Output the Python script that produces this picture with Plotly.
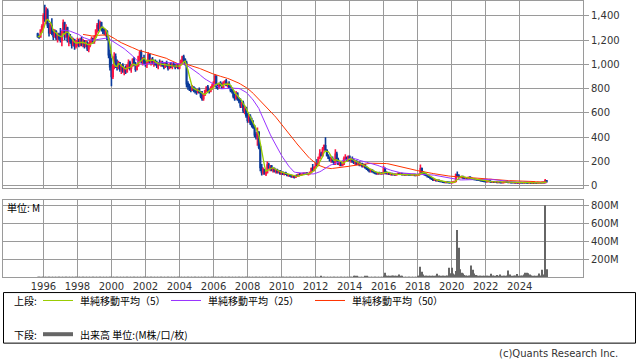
import pandas as pd
import plotly.graph_objects as go

# ---------------- data (monthly, Sep 1995 - Aug 2025) ----------------
START_MONTH = "1995-09-01"

OPEN = [
    1250, 1230, 1225, 1280,
    1310, 1400, 1380, 1440, 1320, 1260, 1320, 1260, 1230, 1270, 1220, 1240,
    1220, 1200, 1260, 1340, 1230, 1300, 1200, 1220, 1190, 1160, 1200, 1150,
    1180, 1190, 1160, 1200, 1170, 1190, 1150, 1180, 1130, 1160, 1190, 1210,
    1190, 1230, 1280, 1320, 1300, 1340, 1290, 1280, 1260, 1270, 1210, 1080,
    980, 900, 980, 1060, 1000, 980, 1010, 960, 990, 950, 970, 940,
    990, 1010, 970, 990, 1040, 1000, 960, 990, 1060, 1100, 1030, 1050,
    1020, 1000, 1020, 1080, 1030, 1040, 1010, 1020, 1000, 990, 1010, 1000,
    1010, 990, 980, 1010, 990, 970, 1000, 980, 1000, 990, 980, 990,
    970, 1000, 1030, 1060, 1040, 1010, 840, 820, 800, 790, 810, 790,
    780, 770, 790, 770, 740, 720, 750, 780, 810, 790, 780, 800,
    820, 850, 900, 820, 810, 840, 830, 810, 850, 860, 830, 840,
    810, 790, 780, 740, 720, 760, 710, 700, 660, 680, 620, 640,
    580, 540, 570, 520, 500, 480, 420, 400, 440, 320, 150, 110,
    130, 100, 110, 170, 150, 160, 130, 140, 120, 130, 110, 120,
    100, 110, 95, 105, 95, 85, 90, 80, 75, 80, 70, 85,
    80, 95, 90, 95, 100, 95, 105, 95, 100, 110, 140, 130,
    150, 180, 170, 230, 260, 250, 300, 330, 290, 250, 230, 210,
    220, 200, 180, 260, 210, 180, 190, 170, 180, 220, 230, 210,
    240, 210, 220, 200, 190, 200, 180, 190, 170, 180, 160, 170,
    150, 140, 130, 120, 130, 115, 110, 105, 100, 105, 100, 105,
    100, 140, 110, 100, 105, 95, 100, 92, 95, 90, 95, 100,
    95, 100, 92, 95, 90, 95, 92, 90, 88, 90, 92, 85,
    88, 90, 95, 140, 110, 100, 90, 85, 75, 70, 60, 55,
    45, 50, 42, 45, 38, 35, 33, 30, 28, 30, 28, 26,
    25, 28, 30, 35, 90, 85, 72, 70, 75, 65, 62, 65,
    60, 70, 62, 58, 55, 52, 50, 48, 45, 43, 40, 38,
    36, 34, 35, 38, 34, 30, 32, 30, 31, 28, 29, 27,
    26, 28, 30, 33, 29, 27, 28, 26, 25, 26, 24, 25,
    24, 26, 25, 24, 27, 26, 24, 23, 24, 22, 23, 22,
    23, 22, 24, 25, 23, 28, 26, 40,
]
HIGH = [
    1260, 1245, 1290, 1330,
    1420, 1490, 1470, 1460, 1340, 1340, 1380, 1290, 1290, 1280, 1260, 1260,
    1300, 1280, 1370, 1350, 1330, 1310, 1240, 1250, 1230, 1220, 1210, 1200,
    1220, 1210, 1220, 1230, 1210, 1200, 1200, 1190, 1180, 1200, 1230, 1220,
    1240, 1290, 1340, 1370, 1360, 1350, 1310, 1300, 1290, 1280, 1230, 1120,
    1050, 1000, 1100, 1090, 1040, 1030, 1020, 1000, 1010, 980, 990, 1000,
    1040, 1030, 1000, 1050, 1060, 1020, 1000, 1070, 1110, 1120, 1060, 1080,
    1040, 1030, 1100, 1090, 1050, 1060, 1030, 1040, 1030, 1020, 1040, 1030,
    1030, 1010, 1020, 1030, 1000, 1010, 1020, 1010, 1020, 1000, 1010, 1000,
    1010, 1040, 1070, 1080, 1050, 1030, 860, 840, 820, 830, 820, 810,
    800, 800, 810, 780, 780, 760, 790, 820, 830, 800, 820, 840,
    860, 920, 910, 840, 850, 860, 850, 860, 870, 880, 850, 860,
    830, 810, 790, 760, 780, 770, 730, 720, 690, 700, 660, 650,
    600, 590, 590, 560, 540, 500, 440, 480, 450, 340, 180, 150,
    140, 130, 200, 190, 170, 170, 150, 150, 140, 140, 130, 130,
    120, 115, 110, 115, 100, 95, 95, 90, 85, 85, 90, 95,
    100, 105, 100, 110, 110, 110, 110, 105, 115, 150, 180, 160,
    190, 220, 240, 300, 280, 320, 340, 400, 300, 260, 240, 240,
    240, 220, 300, 280, 230, 200, 200, 190, 240, 260, 240, 250,
    250, 230, 240, 220, 210, 210, 200, 200, 190, 190, 180, 180,
    160, 150, 140, 140, 135, 125, 120, 115, 110, 115, 110, 110,
    165, 150, 120, 110, 110, 105, 105, 100, 100, 100, 110, 105,
    105, 105, 100, 100, 98, 100, 98, 95, 95, 98, 95, 92,
    95, 100, 175, 150, 120, 110, 100, 90, 85, 75, 70, 60,
    55, 55, 50, 48, 42, 40, 38, 35, 34, 35, 32, 30,
    30, 35, 40, 100, 117, 95, 80, 80, 80, 72, 70, 70,
    75, 78, 68, 62, 60, 58, 55, 52, 50, 48, 45, 42,
    40, 38, 42, 40, 36, 34, 34, 33, 32, 31, 31, 29,
    30, 32, 38, 35, 31, 30, 30, 28, 28, 28, 27, 27,
    28, 29, 28, 30, 32, 28, 26, 26, 26, 25, 25, 24,
    25, 26, 28, 27, 30, 32, 55, 48,
]
LOW = [
    1220, 1210, 1220, 1260,
    1300, 1350, 1330, 1300, 1230, 1250, 1240, 1200, 1220, 1200, 1180, 1200,
    1180, 1150, 1250, 1200, 1220, 1180, 1150, 1170, 1130, 1150, 1120, 1130,
    1150, 1140, 1150, 1150, 1140, 1130, 1140, 1110, 1100, 1140, 1170, 1170,
    1170, 1220, 1260, 1270, 1290, 1270, 1250, 1240, 1230, 1200, 1050, 950,
    820, 880, 960, 970, 950, 960, 940, 920, 930, 910, 920, 930,
    960, 950, 930, 980, 990, 940, 950, 980, 1020, 1010, 990, 1000,
    980, 970, 1010, 1010, 990, 1000, 980, 990, 970, 960, 990, 980,
    980, 960, 970, 980, 950, 960, 970, 960, 980, 960, 970, 960,
    960, 990, 1010, 1020, 990, 810, 790, 780, 770, 780, 770, 760,
    750, 760, 760, 720, 700, 700, 740, 770, 770, 760, 770, 790,
    810, 840, 800, 790, 800, 820, 800, 800, 830, 820, 810, 800,
    770, 760, 720, 700, 710, 700, 680, 640, 640, 600, 590, 560,
    520, 520, 500, 480, 470, 400, 380, 330, 300, 120, 85, 90,
    90, 80, 100, 140, 120, 120, 110, 110, 100, 100, 100, 90,
    90, 90, 85, 90, 80, 75, 75, 65, 65, 60, 65, 75,
    75, 85, 80, 90, 90, 90, 90, 85, 95, 100, 120, 120,
    140, 160, 160, 220, 240, 240, 290, 280, 240, 220, 200, 190,
    190, 170, 170, 200, 170, 160, 160, 160, 170, 210, 200, 200,
    200, 190, 190, 180, 170, 170, 170, 160, 160, 150, 150, 140,
    130, 120, 110, 110, 110, 100, 95, 90, 90, 95, 90, 95,
    95, 100, 95, 90, 90, 85, 88, 85, 85, 85, 88, 90,
    88, 90, 85, 85, 85, 88, 85, 82, 82, 85, 82, 80,
    82, 85, 90, 100, 95, 85, 80, 70, 65, 55, 50, 40,
    40, 40, 38, 35, 32, 30, 28, 26, 25, 26, 24, 22,
    22, 25, 26, 33, 75, 65, 62, 60, 60, 58, 55, 55,
    55, 60, 55, 50, 48, 45, 45, 42, 40, 38, 36, 34,
    32, 30, 32, 32, 28, 27, 28, 27, 26, 25, 25, 24,
    24, 25, 28, 27, 25, 24, 24, 23, 22, 22, 22, 22,
    22, 23, 22, 22, 24, 22, 21, 20, 21, 20, 20, 20,
    20, 20, 22, 21, 22, 24, 25, 30,
]
CLOSE = [
    1230, 1225, 1280, 1310,
    1400, 1380, 1440, 1320, 1260, 1320, 1260, 1230, 1270, 1220, 1240, 1220,
    1200, 1260, 1340, 1230, 1300, 1200, 1220, 1190, 1160, 1200, 1150, 1180,
    1190, 1160, 1200, 1170, 1190, 1150, 1180, 1130, 1160, 1190, 1210, 1190,
    1230, 1280, 1320, 1300, 1340, 1290, 1280, 1260, 1270, 1210, 1080, 980,
    900, 980, 1060, 1000, 980, 1010, 960, 990, 950, 970, 940, 990,
    1010, 970, 990, 1040, 1000, 960, 990, 1060, 1100, 1030, 1050, 1020,
    1000, 1020, 1080, 1030, 1040, 1010, 1020, 1000, 990, 1010, 1000, 1010,
    990, 980, 1010, 990, 970, 1000, 980, 1000, 990, 980, 990, 970,
    1000, 1030, 1060, 1040, 1010, 840, 820, 800, 790, 810, 790, 780,
    770, 790, 770, 740, 720, 750, 780, 810, 790, 780, 800, 820,
    850, 900, 820, 810, 840, 830, 810, 850, 860, 830, 840, 810,
    790, 780, 740, 720, 760, 710, 700, 660, 680, 620, 640, 580,
    540, 570, 520, 500, 480, 420, 400, 440, 320, 150, 110, 130,
    100, 110, 170, 150, 160, 130, 140, 120, 130, 110, 120, 100,
    110, 95, 105, 95, 85, 90, 80, 75, 80, 70, 85, 80,
    95, 90, 95, 100, 95, 105, 95, 100, 110, 140, 130, 150,
    180, 170, 230, 260, 250, 300, 330, 290, 250, 230, 210, 220,
    200, 180, 260, 210, 180, 190, 170, 180, 220, 230, 210, 240,
    210, 220, 200, 190, 200, 180, 190, 170, 180, 160, 170, 150,
    140, 130, 120, 130, 115, 110, 105, 100, 105, 100, 105, 100,
    140, 110, 100, 105, 95, 100, 92, 95, 90, 95, 100, 95,
    100, 92, 95, 90, 95, 92, 90, 88, 90, 92, 85, 88,
    90, 95, 140, 110, 100, 90, 85, 75, 70, 60, 55, 45,
    50, 42, 45, 38, 35, 33, 30, 28, 30, 28, 26, 25,
    28, 30, 35, 90, 85, 72, 70, 75, 65, 62, 65, 60,
    70, 62, 58, 55, 52, 50, 48, 45, 43, 40, 38, 36,
    34, 35, 38, 34, 30, 32, 30, 31, 28, 29, 27, 26,
    28, 30, 33, 29, 27, 28, 26, 25, 26, 24, 25, 24,
    26, 25, 24, 27, 26, 24, 23, 24, 22, 23, 22, 23,
    22, 24, 25, 23, 28, 26, 40, 34,
]
# volume in millions
VOLUME_M = [
    1, 1, 1, 1,
    1, 2, 2, 1, 1, 1, 1, 1, 1, 1, 1, 1,
    1, 1, 1, 1, 1, 1, 1, 1, 1, 1, 1, 1,
    1, 1, 1, 1, 1, 1, 1, 1, 1, 1, 1, 1,
    1, 1, 1, 1, 1, 1, 1, 1, 1, 1, 1, 2,
    2, 1, 1, 1, 1, 1, 1, 1, 1, 1, 1, 1,
    1, 1, 1, 1, 1, 1, 1, 1, 1, 1, 1, 1,
    1, 1, 1, 1, 1, 1, 1, 1, 1, 1, 1, 1,
    1, 1, 1, 1, 1, 1, 1, 1, 1, 1, 1, 1,
    1, 1, 1, 1, 1, 2, 1, 1, 1, 1, 1, 1,
    1, 1, 1, 1, 1, 1, 1, 1, 1, 1, 1, 1,
    1, 1, 1, 1, 1, 1, 1, 1, 1, 1, 1, 1,
    1, 1, 1, 1, 1, 1, 1, 1, 1, 1, 1, 1,
    1, 1, 1, 1, 1, 1, 2, 2, 3, 3, 2, 2,
    2, 3, 2, 2, 2, 1, 1, 1, 1, 1, 1, 1,
    1, 1, 1, 1, 1, 1, 1, 1, 1, 1, 1, 1,
    1, 1, 1, 1, 1, 1, 1, 1, 1, 2, 3, 2,
    2, 2, 3, 4, 6, 4, 3, 2, 2, 2, 2, 2,
    2, 2, 4, 2, 2, 1, 1, 1, 3, 3, 2, 2,
    2, 2, 3, 5, 6, 5, 3, 2, 2, 2, 3, 5,
    5, 4, 3, 2, 2, 2, 2, 2, 2, 2, 2, 2,
    8, 50, 20, 8, 5, 5, 15, 20, 5, 5, 5, 31,
    8, 5, 4, 4, 3, 3, 3, 3, 3, 3, 3, 3,
    5, 10, 116, 61, 30, 15, 8, 5, 5, 5, 5, 8,
    10, 15, 39, 20, 10, 8, 10, 8, 15, 20, 105, 45,
    105, 40, 30, 70, 530, 330, 90, 50, 40, 25, 20, 15,
    20, 15, 131, 83, 40, 25, 20, 15, 15, 12, 10, 12,
    10, 12, 15, 10, 39, 20, 15, 10, 25, 15, 30, 10,
    10, 12, 15, 20, 75, 30, 15, 10, 12, 20, 35, 15,
    12, 15, 20, 30, 50, 50, 45, 30, 20, 15, 12, 10,
    10, 15, 40, 20, 83, 30, 805, 90,
]
Y_TICKS = [0, 200, 400, 600, 800, 1000, 1200, 1400]
VOL_TICKS = [200, 400, 600, 800]
X_TICK_YEARS = [1996, 1998, 2000, 2002, 2004, 2006, 2008, 2010, 2012,
                2014, 2016, 2018, 2020, 2022, 2024]
LEGEND_LABELS = ["単純移動平均（5）", "単純移動平均（25）", "単純移動平均（50）"]

# ---------------- build ----------------
W, H = 638, 362
dates = pd.date_range(START_MONTH, periods=len(CLOSE), freq="MS")
close_s = pd.Series(CLOSE, dtype=float)
ma5 = close_s.rolling(5, min_periods=1).mean()
ma25 = close_s.rolling(25, min_periods=17).mean()
ma50 = close_s.rolling(50, min_periods=33).mean()

RED = "#FF1744"
BLUE = "#0A3A9A"
GREEN = "#99CC00"
PURPLE = "#9933FF"
ORANGE = "#FF3300"
GRID = "#9a9a9a"

fig = go.Figure()
fig.add_trace(go.Candlestick(
    x=dates, open=OPEN, high=HIGH, low=LOW, close=CLOSE,
    increasing=dict(line=dict(color=RED, width=1.6), fillcolor=RED),
    decreasing=dict(line=dict(color=BLUE, width=1.6), fillcolor=BLUE),
    whiskerwidth=0, xaxis="x", yaxis="y", showlegend=False))
for ma, col, lw in [(ma50, ORANGE, 1), (ma25, PURPLE, 1), (ma5, GREEN, 1.3)]:
    fig.add_trace(go.Scatter(x=dates, y=ma, mode="lines",
                             line=dict(color=col, width=lw),
                             xaxis="x", yaxis="y", showlegend=False))
fig.add_trace(go.Bar(x=dates, y=VOLUME_M, marker=dict(color="#666666", line=dict(width=0)),
                     xaxis="x2", yaxis="y2", showlegend=False))

xrange = ["1993-08-17", "2027-09-21"]
xdom = [3 / W, 583 / W]
tickvals = [f"{y}-01-01" for y in X_TICK_YEARS]
common_x = dict(type="date", range=xrange, domain=xdom, tickvals=tickvals,
                ticktext=[str(y) for y in X_TICK_YEARS],
                showgrid=True, gridcolor=GRID, gridwidth=1, showline=True, linecolor=GRID,
                linewidth=1, mirror=True, zeroline=False, ticks="")
axis_font = dict(family="DejaVu Sans", size=10, color="#333333")

fig.update_layout(
    width=W, height=H, margin=dict(l=0, r=0, t=0, b=0),
    paper_bgcolor="white", plot_bgcolor="white",
    font=dict(family="DejaVu Sans", size=10, color="#333333"),
    bargap=0.15, hovermode=False,
    xaxis=dict(common_x, anchor="y", showticklabels=False, rangeslider=dict(visible=False)),
    yaxis=dict(domain=[(H - 190) / H, (H - 1) / H], range=[-22, 1522], side="right",
               tickvals=Y_TICKS, tickformat=",", ticks="outside", ticklen=5, tickcolor=GRID,
               showgrid=True, gridcolor=GRID, gridwidth=1, showline=True, linecolor=GRID,
               mirror=True, zeroline=False, tickfont=axis_font, anchor="x"),
    xaxis2=dict(common_x, anchor="y2", tickfont=axis_font),
    yaxis2=dict(domain=[(H - 279.5) / H, (H - 201.5) / H], range=[0, 867], side="right",
                tickvals=VOL_TICKS, ticktext=[f"{v}M" for v in VOL_TICKS],
                ticks="outside", ticklen=5, tickcolor=GRID,
                showgrid=True, gridcolor=GRID, gridwidth=1, showline=True, linecolor=GRID,
                mirror=True, zeroline=False, tickfont=axis_font, anchor="x2"),
)


def px(x):
    return x / W


def py(y):
    return 1 - y / H


shapes = [dict(type="rect", xref="paper", yref="paper", x0=px(3.5), x1=px(635.5),
               y0=py(346), y1=py(295), line=dict(color="#000000", width=1))]
leg_lines = [(43, 73, 303, GREEN, 1), (171, 201, 303, PURPLE, 1), (315, 345, 303, ORANGE, 1),
             (43, 73, 337, "#666666", 4)]
for x0, x1, y, col, w in leg_lines:
    shapes.append(dict(type="line", xref="paper", yref="paper", x0=px(x0), x1=px(x1),
                       y0=py(y), y1=py(y), line=dict(color=col, width=w)))
fig.update_layout(shapes=shapes)

jp = dict(family="Noto Sans CJK JP", size=10, color="#000000")
texts = [("上段:", 12, 303), (LEGEND_LABELS[0], 78, 303), (LEGEND_LABELS[1], 206, 303),
         (LEGEND_LABELS[2], 350, 303), ("下段:", 12, 337),
         ("出来高 単位:(M株/口/枚)", 78, 337), ("単位: M", 5, 209)]
ann = []
for t, x, y in texts:
    ann.append(dict(text=t, xref="paper", yref="paper", x=px(x), y=py(y), xanchor="left",
                    yanchor="middle", showarrow=False, font=jp))
ann.append(dict(text="(c)Quants Research Inc.", xref="paper", yref="paper", x=px(620), y=py(356),
                xanchor="right", yanchor="middle", showarrow=False,
                font=dict(family="DejaVu Sans", size=10, color="#333333")))
fig.update_layout(annotations=ann)

fig.write_html("out.html")
